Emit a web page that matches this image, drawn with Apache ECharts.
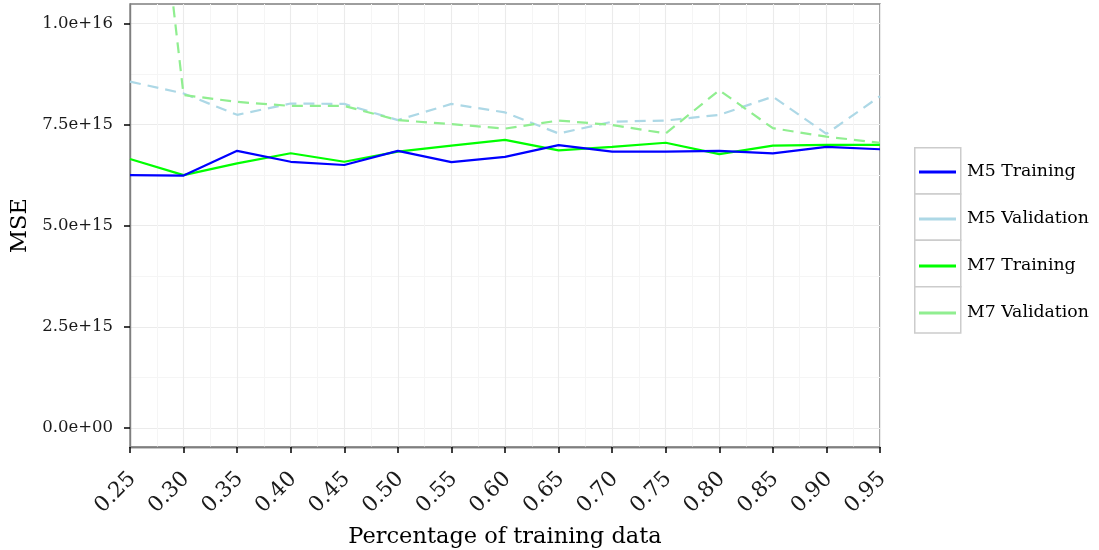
<!DOCTYPE html>
<html>
<head>
<meta charset="utf-8">
<script src="https://cdn.jsdelivr.net/npm/echarts@6/dist/echarts.min.js"></script>
<style>html,body{margin:0;padding:0;background:#fff}#c{width:1099px;height:550px}</style>
</head>
<body>
<div id="c"></div>
<script>
const pct = [0.25,0.30,0.35,0.40,0.45,0.50,0.55,0.60,0.65,0.70,0.75,0.80,0.85,0.90,0.95];
const m5Train = [6.25e15,6.24e15,6.85e15,6.58e15,6.50e15,6.85e15,6.57e15,6.70e15,6.99e15,6.83e15,6.83e15,6.85e15,6.79e15,6.95e15,6.89e15];
const m5Valid = [8.56e15,8.27e15,7.74e15,8.02e15,8.01e15,7.61e15,8.01e15,7.80e15,7.28e15,7.57e15,7.60e15,7.74e15,8.19e15,7.27e15,8.20e15];
const m7Train = [6.65e15,6.25e15,6.54e15,6.79e15,6.58e15,6.83e15,6.98e15,7.12e15,6.86e15,6.95e15,7.05e15,6.77e15,6.98e15,7.00e15,7.00e15];
const m7Valid = [1.97e16,8.23e15,8.06e15,7.96e15,7.96e15,7.61e15,7.51e15,7.40e15,7.60e15,7.49e15,7.28e15,8.35e15,7.41e15,7.20e15,7.05e15];
const seriesNames = ['M5 Training','M5 Validation','M7 Training','M7 Validation'];
const yTicks = [0, 2.5e15, 5e15, 7.5e15, 1e16];

const FONT = 'DejaVu Serif';
const pair = arr => pct.map((x,i)=>[x,arr[i]]);
function sci(v){
  if (v === 0) return '0.0e+00';
  const e = Math.floor(Math.log10(Math.abs(v)) + 1e-9);
  const m = v/Math.pow(10,e);
  return m.toFixed(1)+'e'+(e>=0?'+':'-')+String(Math.abs(e)).padStart(2,'0');
}
const chart = echarts.init(document.getElementById('c'), null, {renderer:'canvas'});
const boxes = [0,1,2,3].map(i=>({
  type:'rect', left:914, top:147+46.3*i,
  shape:{width:46, height:46.3},
  style:{fill:'#fff', stroke:'#CCCCCC', lineWidth:1.5}, z:1
}));
const option = {
  backgroundColor:'#fff',
  animation:false,
  grid:{left:130, right:219, top:4, bottom:103, containLabel:false, outerBoundsMode:'none', show:true, borderColor:'#7F7F7F', borderWidth:1.4, backgroundColor:'#fff'},
  graphic: boxes,
  legend:{
    orient:'vertical', left:914, top:158.5, itemWidth:37, itemHeight:3, itemGap:30, icon:'rect',
    data:seriesNames, z:10,
    textStyle:{fontFamily:FONT, fontSize:17.3, color:'#000', lineHeight:16, padding:[0,0,0,6]}
  },
  xAxis:[{
    type:'value', min:0.25, max:0.95, interval:0.05,
    name:'Percentage of training data', nameLocation:'middle', nameGap:75,
    nameTextStyle:{fontFamily:FONT, fontSize:22.5, color:'#000'},
    axisLine:{show:true, onZero:false, lineStyle:{color:'#7F7F7F', width:1.4}},
    axisTick:{show:true, length:6, lineStyle:{color:'#000', width:1.5}},
    axisLabel:{rotate:45, margin:12, verticalAlign:'top', lineHeight:27, padding:[0,10,0,0], fontFamily:FONT, fontSize:21.5, color:'#1a1a1a', formatter:v=>v.toFixed(2)},
    splitLine:{show:true, lineStyle:{color:'#EBEBEB', width:1.1}},
    minorTick:{show:false, splitNumber:2},
    minorSplitLine:{show:true, lineStyle:{color:'#F5F5F5', width:1}}
  },{
    type:'value', min:0.25, max:0.95, interval:0.05, position:'bottom',
    axisLine:{show:true, onZero:false, lineStyle:{color:'#7F7F7F', width:1.4}},
    axisTick:{show:true, length:6, lineStyle:{color:'#000', width:1.5}},
    axisLabel:{show:false},
    splitLine:{show:false}
  }],
  yAxis:{
    type:'value', min:-0.47e15, max:10.48e15, minInterval:2.5e15, maxInterval:2.5e15,
    name:'MSE', nameLocation:'middle', nameGap:96,
    nameTextStyle:{fontFamily:FONT, fontSize:22.5, color:'#000'},
    axisLine:{show:true, onZero:false, lineStyle:{color:'#7F7F7F', width:1.4}},
    axisTick:{show:true, length:6, lineStyle:{color:'#000', width:1.5}, customValues:yTicks},
    axisLabel:{margin:17, fontFamily:FONT, fontSize:16.5, color:'#1a1a1a', formatter:sci, customValues:yTicks},
    splitLine:{show:true, lineStyle:{color:'#EBEBEB', width:1.1}},
    minorTick:{show:false, splitNumber:2},
    minorSplitLine:{show:true, lineStyle:{color:'#F5F5F5', width:1}}
  },
  series:[
    {name:seriesNames[0], type:'line', data:pair(m5Train), showSymbol:false, symbol:'none', clip:true, color:'#0000FF', lineStyle:{color:'#0000FF', width:2.2}, z:5},
    {name:seriesNames[1], type:'line', data:pair(m5Valid), showSymbol:false, symbol:'none', clip:true, color:'#ADD8E6', lineStyle:{color:'#ADD8E6', width:2.2, type:[11,7]}, z:3},
    {name:seriesNames[2], type:'line', data:pair(m7Train), showSymbol:false, symbol:'none', clip:true, color:'#00FF00', lineStyle:{color:'#00FF00', width:2.2}, z:4},
    {name:seriesNames[3], type:'line', data:pair(m7Valid), showSymbol:false, symbol:'none', clip:true, color:'#90EE90', lineStyle:{color:'#90EE90', width:2.2, type:[11,7]}, z:3}
  ]
};
chart.setOption(option);
</script>
</body>
</html>
